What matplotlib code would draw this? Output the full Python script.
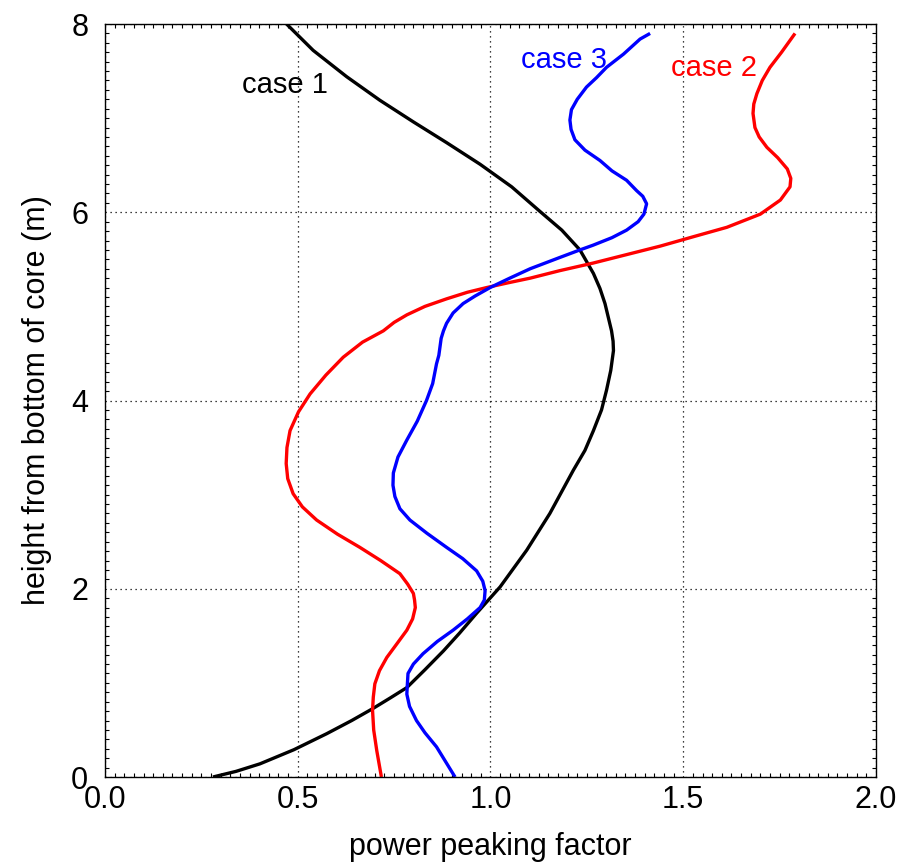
import matplotlib
matplotlib.use("Agg")
import matplotlib.pyplot as plt
from matplotlib.ticker import MultipleLocator

plt.rcParams['font.family'] = ['Liberation Sans', 'DejaVu Sans']

# case 1 (black)
case1_x = [0.28, 0.34, 0.402, 0.49, 0.575, 0.64, 0.696, 0.74, 0.783, 0.83, 0.878, 0.92, 0.964, 1.025, 1.094, 1.154, 1.215, 1.245, 1.267, 1.288, 1.301, 1.312, 1.319, 1.318, 1.314, 1.297, 1.284, 1.267, 1.232, 1.185, 1.128, 1.055, 0.973, 0.886, 0.800, 0.713, 0.627, 0.540, 0.471]
case1_y = [0.00, 0.06, 0.14, 0.29, 0.46, 0.60, 0.73, 0.84, 0.95, 1.14, 1.34, 1.53, 1.74, 2.02, 2.41, 2.80, 3.26, 3.47, 3.68, 3.90, 4.11, 4.32, 4.53, 4.63, 4.74, 5.03, 5.19, 5.35, 5.60, 5.81, 6.01, 6.27, 6.51, 6.74, 6.96, 7.19, 7.44, 7.72, 8.00]

# case 2 (red)
case2_x = [0.717, 0.705, 0.697, 0.694, 0.696, 0.700, 0.712, 0.731, 0.758, 0.783, 0.798, 0.805, 0.803, 0.800, 0.785, 0.765, 0.715, 0.661, 0.603, 0.549, 0.512, 0.488, 0.474, 0.470, 0.472, 0.480, 0.502, 0.532, 0.573, 0.618, 0.668, 0.722, 0.750, 0.783, 0.830, 0.886, 0.940, 0.990, 1.045, 1.103, 1.180, 1.266, 1.353, 1.440, 1.526, 1.613, 1.700, 1.752, 1.777, 1.779, 1.770, 1.745, 1.717, 1.697, 1.686, 1.681, 1.683, 1.691, 1.705, 1.725, 1.755, 1.79]
case2_y = [0.00, 0.28, 0.50, 0.71, 0.85, 0.99, 1.13, 1.27, 1.42, 1.56, 1.68, 1.80, 1.88, 1.95, 2.05, 2.16, 2.30, 2.44, 2.58, 2.73, 2.87, 3.01, 3.17, 3.33, 3.50, 3.68, 3.88, 4.07, 4.27, 4.46, 4.62, 4.74, 4.83, 4.91, 5.00, 5.08, 5.15, 5.20, 5.25, 5.30, 5.38, 5.46, 5.55, 5.64, 5.74, 5.84, 5.98, 6.13, 6.27, 6.36, 6.46, 6.58, 6.69, 6.80, 6.90, 7.05, 7.15, 7.26, 7.40, 7.54, 7.70, 7.90]

# case 3 (blue)
case3_x = [0.908, 0.860, 0.830, 0.808, 0.790, 0.783, 0.784, 0.786, 0.800, 0.825, 0.862, 0.903, 0.940, 0.973, 0.984, 0.986, 0.980, 0.964, 0.928, 0.886, 0.835, 0.791, 0.765, 0.752, 0.747, 0.748, 0.760, 0.783, 0.810, 0.834, 0.850, 0.860, 0.866, 0.869, 0.872, 0.878, 0.886, 0.903, 0.929, 0.960, 0.999, 1.05, 1.103, 1.180, 1.232, 1.266, 1.315, 1.353, 1.383, 1.398, 1.405, 1.395, 1.379, 1.353, 1.315, 1.284, 1.245, 1.219, 1.209, 1.206, 1.210, 1.225, 1.249, 1.275, 1.301, 1.345, 1.388, 1.414]
case3_y = [0.00, 0.32, 0.47, 0.60, 0.75, 0.88, 0.96, 1.10, 1.20, 1.31, 1.44, 1.56, 1.68, 1.80, 1.88, 1.98, 2.08, 2.19, 2.32, 2.44, 2.59, 2.73, 2.85, 2.98, 3.10, 3.23, 3.40, 3.58, 3.78, 4.00, 4.18, 4.39, 4.48, 4.57, 4.66, 4.74, 4.82, 4.93, 5.03, 5.11, 5.20, 5.30, 5.40, 5.52, 5.60, 5.65, 5.73, 5.81, 5.90, 5.98, 6.09, 6.17, 6.23, 6.34, 6.44, 6.55, 6.66, 6.77, 6.88, 6.98, 7.09, 7.20, 7.33, 7.43, 7.54, 7.68, 7.84, 7.90]

xticks = [0.0, 0.5, 1.0, 1.5, 2.0]
xtick_labels = ["0.0", "0.5", "1.0", "1.5", "2.0"]
yticks = [0, 2, 4, 6, 8]
ytick_labels = ["0", "2", "4", "6", "8"]

fig = plt.figure(figsize=(8.99, 8.67), dpi=100)
ax = fig.add_axes([0.1168, 0.1038, 0.8576, 0.8685])

ax.plot(case1_x, case1_y, color='black', lw=2.4, solid_joinstyle='round', solid_capstyle='butt')
ax.plot(case2_x, case2_y, color='#ff0000', lw=2.4, solid_joinstyle='round', solid_capstyle='butt')
ax.plot(case3_x, case3_y, color='#0000ff', lw=2.4, solid_joinstyle='round', solid_capstyle='butt')

ax.text(0.467, 7.35, "case 1", color='black', fontsize=21, ha='center', va='center')
ax.text(1.19, 7.62, "case 3", color='#0000ff', fontsize=21, ha='center', va='center')
ax.text(1.58, 7.53, "case 2", color='#ff0000', fontsize=21, ha='center', va='center')

ax.set_xlim(0, 2.0)
ax.set_ylim(0, 8)
ax.set_xticks(xticks)
ax.set_xticklabels(xtick_labels)
ax.set_yticks(yticks)
ax.set_yticklabels(ytick_labels)
ax.xaxis.set_minor_locator(MultipleLocator(0.025))
ax.yaxis.set_minor_locator(MultipleLocator(0.1))
ax.tick_params(axis='x', which='major', direction='in', length=0, labelsize=22, pad=6,
               top=True, right=True)
ax.tick_params(axis='y', which='major', direction='in', length=0, labelsize=22, pad=12,
               top=True, right=True)
ax.tick_params(which='minor', direction='in', length=3, width=0.8,
               top=True, right=True)
ax.grid(True, which='major', linestyle=(0, (1, 3)), color='black', linewidth=0.9)
for s in ax.spines.values():
    s.set_linewidth(1.0)
ax.set_axisbelow(True)

ax.set_xlabel("power peaking factor", fontsize=22, labelpad=12)
ax.set_ylabel("height from bottom of core (m)", fontsize=22, labelpad=14)

fig.savefig("out.png", dpi=100)
